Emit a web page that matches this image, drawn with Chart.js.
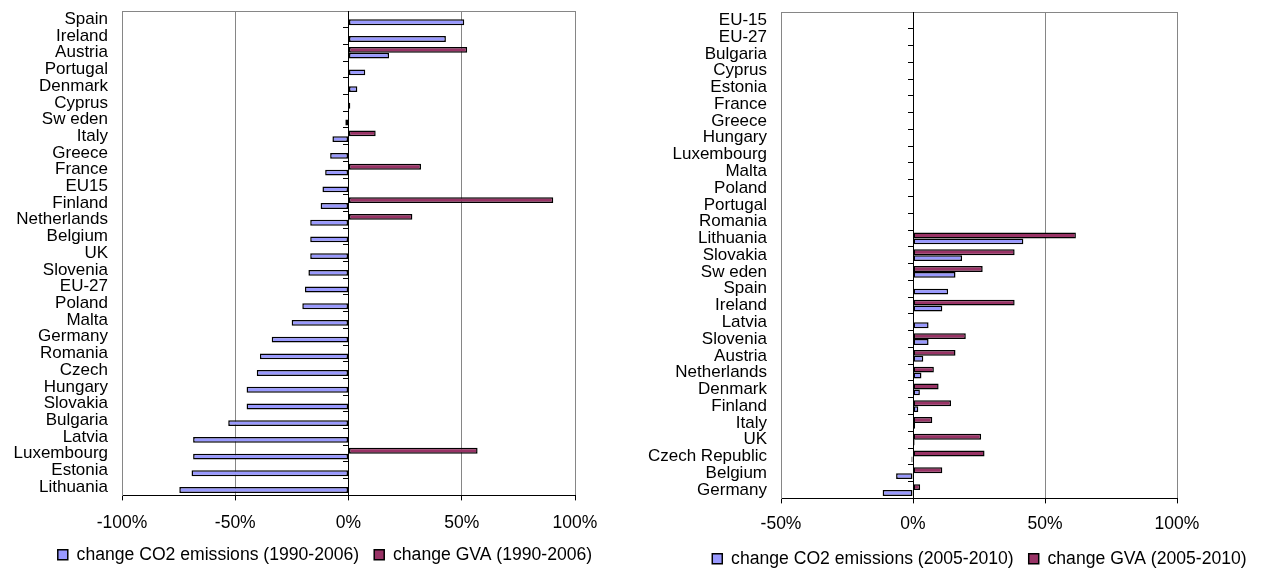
<!DOCTYPE html>
<html>
<head>
<meta charset="utf-8">
<script src="https://cdn.jsdelivr.net/npm/chart.js@4.4.1/dist/chart.umd.min.js"></script>
<style>
html, body { margin: 0; padding: 0; background: #fff; overflow: hidden; }
#wrap { position: relative; width: 1262px; height: 568px; overflow: hidden; }
.box { position: absolute; top: 0; height: 580px; }
#left { left: 0; width: 650px; }
#right { left: 640px; width: 679px; }
</style>
</head>
<body>
<div id="wrap">
  <div class="box" id="left"><canvas id="chart1"></canvas></div>
  <div class="box" id="right"><canvas id="chart2"></canvas></div>
</div>
<script>
// left chart: 1990-2006
const countries1990 = ['Spain', 'Ireland', 'Austria', 'Portugal', 'Denmark', 'Cyprus', 'Sw eden', 'Italy', 'Greece', 'France',
  'EU15', 'Finland', 'Netherlands', 'Belgium', 'UK', 'Slovenia', 'EU-27', 'Poland', 'Malta', 'Germany', 'Romania', 'Czech',
  'Hungary', 'Slovakia', 'Bulgaria', 'Latvia', 'Luxembourg', 'Estonia', 'Lithuania'];
const co2_1990 = [51.1, 43, 17.9, 7.4, 3.9, 0.8, -1.4, -7.1, -8.1, -10.3, -11.5, -12.3, -16.9, -16.9, -16.9, -17.7, -19.2,
  -20.4, -25.1, -33.9, -39.1, -40.5, -45, -45, -53.1, -68.6, -68.6, -69.3, -74.7];
const gva_1990 = [null, null, 52.4, null, null, null, null, 12, null, 32, null, 90.4, 28.2, null, null, null, null,
  null, null, null, null, null, null, null, null, null, 57, null, null];
const ticks1990 = [-100, -50, 0, 50, 100];

// right chart: 2005-2010
const countries2005 = ['EU-15', 'EU-27', 'Bulgaria', 'Cyprus', 'Estonia', 'France', 'Greece', 'Hungary', 'Luxembourg', 'Malta',
  'Poland', 'Portugal', 'Romania', 'Lithuania', 'Slovakia', 'Sw eden', 'Spain', 'Ireland', 'Latvia', 'Slovenia', 'Austria',
  'Netherlands', 'Denmark', 'Finland', 'Italy', 'UK', 'Czech Republic', 'Belgium', 'Germany'];
const co2_2005 = [null, null, null, null, null, null, null, null, null, null, null, null, null,
  41.8, 18.6, 16.1, 13.3, 11.1, 5.9, 5.9, 3.9, 3.2, 2.6, 2, 0.8, 0.6, -0.6, -6.4, -11.5];
const gva_2005 = [null, null, null, null, null, null, null, null, null, null, null, null, null,
  61.7, 38.5, 26.4, null, 38.5, null, 20, 16.1, 7.9, 9.7, 14.4, 7.3, 25.8, 27.1, 11.1, 2.7];
const ticks2005 = [-50, 0, 50, 100];

Chart.defaults.font.family = "'Liberation Sans', Arial, sans-serif";
Chart.defaults.color = '#000';
Chart.defaults.animation = false;

const BLUE = '#9999ff';
const MAROON = '#993366';
const GRID = '#868686';

function makeChart(id, labels, co2, gva, tickVals, lbl, L) {
  const ctx = document.getElementById(id).getContext('2d');
  return new Chart(ctx, {
    type: 'bar',
    data: {
      labels: labels,
      datasets: [
        { label: 'change GVA ' + lbl, data: gva, backgroundColor: MAROON },
        { label: 'change CO2 emissions ' + lbl, data: co2, backgroundColor: BLUE }
      ]
    },
    options: {
      indexAxis: 'y',
      responsive: true,
      maintainAspectRatio: false,
      categoryPercentage: 0.7,
      barPercentage: 1,
      datasets: { bar: { borderColor: '#000', borderWidth: 1.5, borderSkipped: false } },
      layout: { padding: { left: 0, right: 0, top: L.top, bottom: L.bottom } },
      plugins: {
        tooltip: { enabled: false },
        legend: {
          position: 'bottom',
          labels: {
            font: { size: 17.6 },
            boxWidth: 10,
            boxHeight: 10,
            padding: 15,
            sort: (a, b) => b.datasetIndex - a.datasetIndex
          }
        }
      },
      scales: {
        x: {
          type: 'linear',
          min: tickVals[0],
          max: tickVals[tickVals.length - 1],
          afterBuildTicks: s => { s.ticks = tickVals.map(v => ({ value: v })); },
          afterFit: s => { s.height = L.xh; },
          ticks: { padding: L.xpad, font: { size: 17.5, lineHeight: 1 }, callback: v => v + '%' },
          grid: {
            color: c => (c.tick && c.tick.value === 0) ? '#000' : GRID,
            tickColor: '#000',
            tickLength: 5
          },
          border: { display: true, color: '#000' }
        },
        x2: {
          type: 'linear',
          axis: 'x',
          position: 'top',
          min: tickVals[0],
          max: tickVals[tickVals.length - 1],
          afterFit: s => { s.height = 0; },
          ticks: { display: false },
          grid: { display: false, drawTicks: false },
          border: { display: true, color: GRID }
        },
        y: {
          type: 'category',
          afterFit: s => { s.width = L.yw; s.paddingTop = 0; s.paddingBottom = 0; },
          ticks: { autoSkip: false, padding: 14, font: { size: 17 } },
          grid: { display: false, drawTicks: false },
          border: { display: true, color: GRID }
        },
        // empty box on the right, keeps room so the legend centres like the original
        yr: {
          type: 'category',
          axis: 'y',
          position: 'right',
          afterFit: s => { s.width = L.rw; s.paddingTop = 0; s.paddingBottom = 0; },
          ticks: { display: false },
          grid: { display: false, drawTicks: false },
          border: { display: false }
        },
        y2: {
          type: 'category',
          axis: 'y',
          position: { x: 0 },
          offset: true,
          afterFit: s => { s.paddingTop = 0; s.paddingBottom = 0; },
          ticks: { display: false },
          grid: { offset: true, drawOnChartArea: false, drawTicks: true, tickLength: 5, color: '#000' },
          border: { display: true, color: '#000' }
        }
      }
    }
  });
}

makeChart('chart1', countries1990, co2_1990, gva_1990, ticks1990, '(1990-2006)',
  { top: 11, bottom: 6.5, yw: 122, rw: 75, xh: 35.5, xpad: 14 });
makeChart('chart2', countries2005, co2_2005, gva_2005, ticks2005, '(2005-2010)',
  { top: 12, bottom: 2.5, yw: 141, rw: 142, xh: 36.5, xpad: 12.5 });
</script>
</body>
</html>
